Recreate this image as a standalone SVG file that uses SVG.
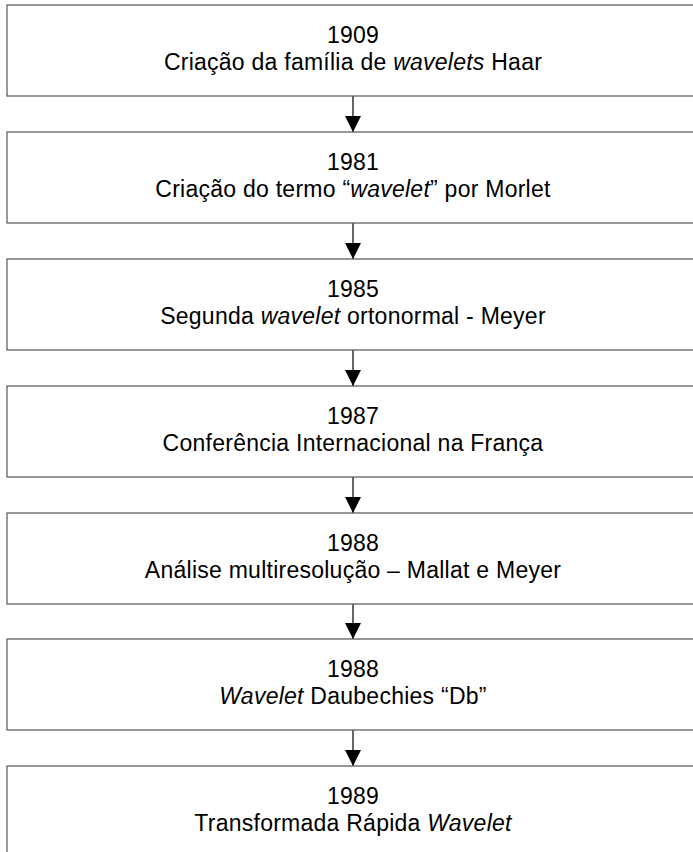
<svg xmlns="http://www.w3.org/2000/svg" width="693" height="852" viewBox="0 0 693 852">
<defs>
<style>
.box{fill:#fff;stroke:#555;stroke-width:1.2}
.t{font-family:"Liberation Sans",Arial,sans-serif;font-size:23px;letter-spacing:0.25px;text-anchor:middle;fill:#000}
.i{font-style:italic}
.c{stroke:#000;stroke-width:1.2;fill:none}
</style>
<marker id="ah" markerWidth="16" markerHeight="16" refX="16" refY="8" orient="auto" markerUnits="userSpaceOnUse">
<path d="M0,0 L16,8 L0,16 Z" fill="#000"/>
</marker>
</defs>
<rect width="693" height="852" fill="#fff"/>
<g id="connectors">
<line class="c" x1="353" y1="96" x2="353" y2="132" marker-end="url(#ah)"/>
<line class="c" x1="353" y1="223" x2="353" y2="259" marker-end="url(#ah)"/>
<line class="c" x1="353" y1="350" x2="353" y2="386" marker-end="url(#ah)"/>
<line class="c" x1="353" y1="477" x2="353" y2="513" marker-end="url(#ah)"/>
<line class="c" x1="353" y1="604" x2="353" y2="639" marker-end="url(#ah)"/>
<line class="c" x1="353" y1="730" x2="353" y2="766" marker-end="url(#ah)"/>
</g>
<g id="n1"><rect class="box" x="7" y="5" width="692" height="91"/>
<text class="t" x="353" y="43">1909</text>
<text class="t" x="353" y="70">Criação da família de <tspan class="i">wavelets</tspan> Haar</text></g>
<g id="n2"><rect class="box" x="7" y="132" width="692" height="91"/>
<text class="t" x="353" y="170">1981</text>
<text class="t" x="353" y="197">Criação do termo “<tspan class="i">wavelet</tspan>” por Morlet</text></g>
<g id="n3"><rect class="box" x="7" y="259" width="692" height="91"/>
<text class="t" x="353" y="297">1985</text>
<text class="t" x="353" y="324">Segunda <tspan class="i">wavelet</tspan> ortonormal - Meyer</text></g>
<g id="n4"><rect class="box" x="7" y="386" width="692" height="91"/>
<text class="t" x="353" y="424">1987</text>
<text class="t" x="353" y="451">Conferência Internacional na França</text></g>
<g id="n5"><rect class="box" x="7" y="513" width="692" height="91"/>
<text class="t" x="353" y="551">1988</text>
<text class="t" x="353" y="578">Análise multiresolução – Mallat e Meyer</text></g>
<g id="n6"><rect class="box" x="7" y="639" width="692" height="91"/>
<text class="t" x="353" y="677">1988</text>
<text class="t" x="353" y="704"><tspan class="i">Wavelet</tspan> Daubechies “Db”</text></g>
<g id="n7"><rect class="box" x="7" y="766" width="692" height="91"/>
<text class="t" x="353" y="804">1989</text>
<text class="t" x="353" y="831">Transformada Rápida <tspan class="i">Wavelet</tspan></text></g>
</svg>
